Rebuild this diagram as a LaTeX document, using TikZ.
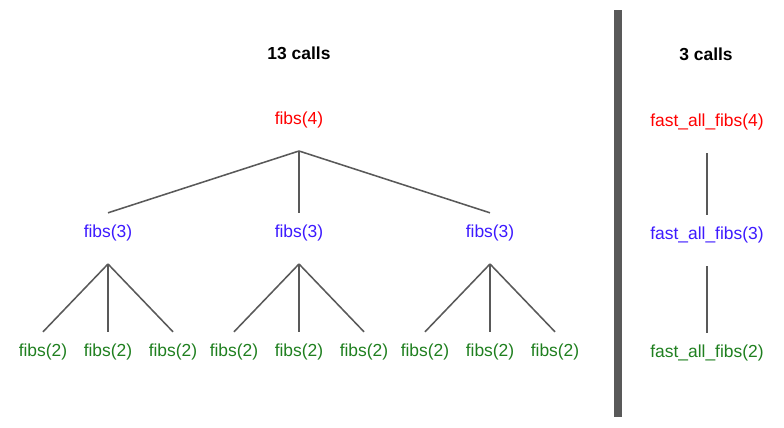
\documentclass[tikz,border=0pt]{standalone}
\usepackage{fontspec}
\setmainfont{Liberation Sans}
\definecolor{linie}{RGB}{89,89,89}
\definecolor{rot}{RGB}{255,0,0}
\definecolor{blau}{RGB}{61,26,255}
\definecolor{gruen}{RGB}{31,127,31}

\begin{document}
\begin{tikzpicture}[x=0.025cm, y=-0.025cm, font=\fontsize{12.4}{15}\selectfont,
	call/.style={inner sep=0pt, anchor=base, text height=17pt, text depth=19pt},
	kante/.style={linie, line width=1.1pt}]

	\useasboundingbox (0,0) rectangle (784,428);

	% Titel
	\node[anchor=base, font=\fontsize{12.4}{15}\selectfont\bfseries] (T1) at (299,59) {13 calls};
	\node[anchor=base, font=\fontsize{12.4}{15}\selectfont\bfseries] (T2) at (706,60) {3 calls};

	% Trennstrich
	\draw[linie, line width=5pt] (618,10) -- (618,417);

	% Stufe 1
	\node[call, rot] (F) at (299,124) {fibs(4)};

	% Stufe 2
	\node[call, blau] (F1) at (108,237) {fibs(3)};
	\node[call, blau] (F2) at (299,237) {fibs(3)};
	\node[call, blau] (F3) at (490,237) {fibs(3)};

	\draw[kante] (F.south) -- (F1.north);
	\draw[kante] (F.south) -- (F2.north);
	\draw[kante] (F.south) -- (F3.north);

	% Stufe 3
	\node[call, gruen] (F11) at (43,356) {fibs(2)};
	\node[call, gruen] (F12) at (108,356) {fibs(2)};
	\node[call, gruen] (F13) at (173,356) {fibs(2)};

	\draw[kante] (F1.south) -- (F11.north);
	\draw[kante] (F1.south) -- (F12.north);
	\draw[kante] (F1.south) -- (F13.north);

	\node[call, gruen] (F21) at (234,356) {fibs(2)};
	\node[call, gruen] (F22) at (299,356) {fibs(2)};
	\node[call, gruen] (F23) at (364,356) {fibs(2)};

	\draw[kante] (F2.south) -- (F21.north);
	\draw[kante] (F2.south) -- (F22.north);
	\draw[kante] (F2.south) -- (F23.north);

	\node[call, gruen] (F31) at (425,356) {fibs(2)};
	\node[call, gruen] (F32) at (490,356) {fibs(2)};
	\node[call, gruen] (F33) at (555,356) {fibs(2)};

	\draw[kante] (F3.south) -- (F31.north);
	\draw[kante] (F3.south) -- (F32.north);
	\draw[kante] (F3.south) -- (F33.north);

	% schnelle Variante
	\node[call, rot] (S1) at (707,126) {fast\_all\_fibs(4)};
	\node[call, blau] (S2) at (707,239) {fast\_all\_fibs(3)};
	\node[call, gruen] (S3) at (707,357) {fast\_all\_fibs(2)};

	\draw[kante] (S1.south) -- (S2.north);
	\draw[kante] (S2.south) -- (S3.north);
\end{tikzpicture}
\end{document}
